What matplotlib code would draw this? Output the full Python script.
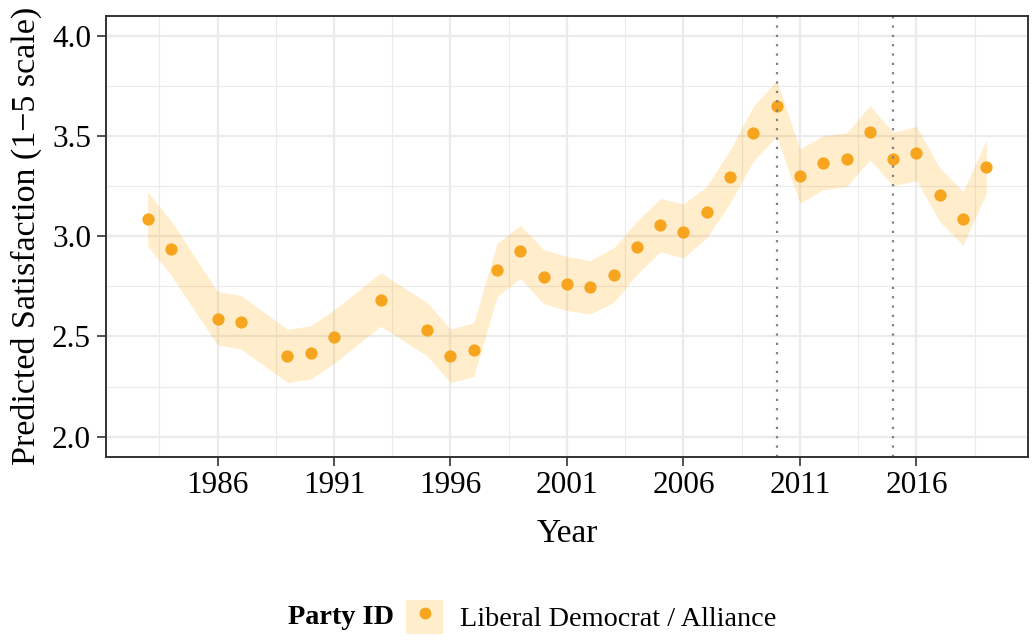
import matplotlib
matplotlib.use("Agg")
import matplotlib.pyplot as plt
from matplotlib.lines import Line2D
from matplotlib.patches import Patch

plt.rcParams["font.family"] = ["Liberation Serif", "DejaVu Serif"]

# Survey years and model predictions (Liberal Democrat / Alliance identifiers)
years = [1983, 1984, 1986, 1987, 1989, 1990, 1991, 1993, 1995, 1996, 1997,
         1998, 1999, 2000, 2001, 2002, 2003, 2004, 2005, 2006, 2007, 2008,
         2009, 2010, 2011, 2012, 2013, 2014, 2015, 2016, 2017, 2018, 2019]
predicted = [3.087, 2.937, 2.589, 2.571, 2.401, 2.418, 2.498, 2.684, 2.533,
             2.401, 2.434, 2.832, 2.924, 2.796, 2.762, 2.746, 2.806, 2.944,
             3.057, 3.023, 3.120, 3.297, 3.513, 3.649, 3.300, 3.366, 3.383,
             3.520, 3.383, 3.415, 3.207, 3.088, 3.347]
lower = [2.952, 2.806, 2.458, 2.438, 2.270, 2.287, 2.366, 2.551, 2.403,
         2.270, 2.300, 2.699, 2.789, 2.663, 2.629, 2.613, 2.669, 2.809,
         2.922, 2.892, 2.992, 3.165, 3.375, 3.498, 3.165, 3.232, 3.248,
         3.381, 3.252, 3.278, 3.073, 2.955, 3.215]
upper = [3.220, 3.078, 2.724, 2.704, 2.536, 2.553, 2.633, 2.817, 2.669,
         2.536, 2.569, 2.965, 3.055, 2.932, 2.899, 2.879, 2.941, 3.075,
         3.188, 3.162, 3.248, 3.431, 3.648, 3.777, 3.435, 3.501, 3.515,
         3.651, 3.518, 3.548, 3.340, 3.223, 3.481]
election_years = [2010, 2015]
x_ticks = [1986, 1991, 1996, 2001, 2006, 2011, 2016]
y_ticks = [2.0, 2.5, 3.0, 3.5, 4.0]
series_label = "Liberal Democrat / Alliance"

point_color = "#F7A51E"
ribbon_color = (1.0, 0.647, 0.0, 0.2)
grid_color = "#EBEBEB"
frame_color = "#333333"

fig = plt.figure(figsize=(10.32, 6.41), dpi=100)
ax = fig.add_axes([0.1024, 0.2875, 0.894, 0.688])

ax.fill_between(years, lower, upper, color=ribbon_color, linewidth=0, zorder=2)
ax.scatter(years, predicted, s=78, color=point_color, linewidths=0, zorder=3)
for yr in election_years:
    ax.axvline(yr, color="#7F7F7F", linestyle=(0, (1, 3.2)), linewidth=1.6, zorder=4)

ax.set_xlim(1981.2, 2020.8)
ax.set_ylim(1.9, 4.1)
ax.set_xticks(x_ticks)
ax.set_yticks(y_ticks)
ax.set_yticklabels([f"{v:.1f}" for v in y_ticks])
minor_x = [x_ticks[0] - 2.5] + [t + 2.5 for t in x_ticks]
ax.set_xticks(minor_x, minor=True)
ax.set_yticks([2.25, 2.75, 3.25, 3.75], minor=True)

ax.grid(which="major", color=grid_color, linewidth=1.6, zorder=0)
ax.grid(which="minor", color=grid_color, linewidth=0.8, zorder=0)
ax.set_axisbelow(True)

ax.tick_params(which="major", length=6.5, width=1.2, color=frame_color,
               labelsize=22.5, labelcolor="black", pad=4)
ax.tick_params(which="minor", length=0)
for sp in ax.spines.values():
    sp.set_color(frame_color)
    sp.set_linewidth(1.4)
    sp.set_zorder(5)

ax.set_xlabel("Year", fontsize=24, labelpad=13)
ax.set_ylabel("Predicted Satisfaction (1\u22125 scale)", fontsize=24.5, labelpad=7)

# Legend along the bottom, title to the left of the key
handle = (Patch(facecolor=ribbon_color, edgecolor="none"),
          Line2D([], [], linestyle="none", marker="o", markersize=8.5,
                 markerfacecolor=point_color, markeredgewidth=0))
fig.legend([handle], [series_label], loc="center left",
           bbox_to_anchor=(0.3934, 0.0374), frameon=False, fontsize=20.3,
           handlelength=1.33, handleheight=1.51, handletextpad=0.58,
           borderpad=0, borderaxespad=0)
fig.text(0.2790, 0.0374, "Party ID", fontsize=20.3, fontweight="bold",
         ha="left", va="center")

fig.savefig("out.png", dpi=100)
